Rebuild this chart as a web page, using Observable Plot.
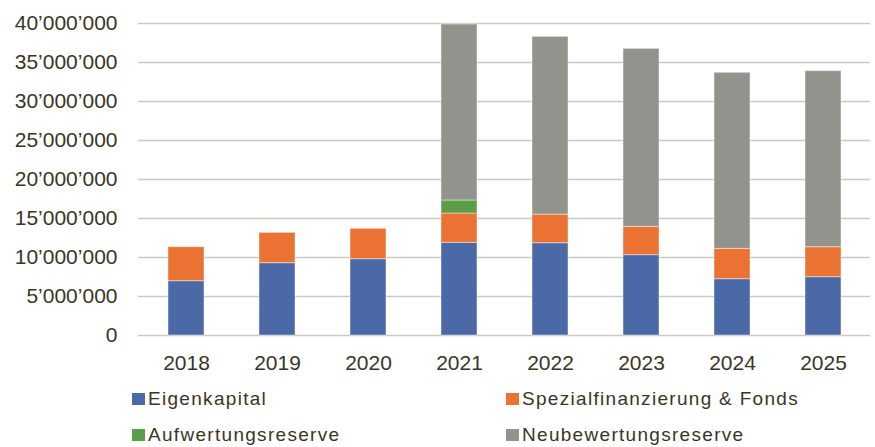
<!DOCTYPE html>
<html>
<head>
<meta charset="utf-8">
<script src="https://cdn.jsdelivr.net/npm/d3@7"></script>
<script src="https://cdn.jsdelivr.net/npm/@observablehq/plot@0.6"></script>
<style>
  html, body { margin: 0; padding: 0; background: #fff; }
  body { width: 875px; height: 447px; overflow: hidden; font-family: "Liberation Sans", Arial, sans-serif; color: #3b3526; }
  #legend { position: relative; height: 72px; }
  .item { position: absolute; display: flex; align-items: center; height: 36px; font-size: 19px; letter-spacing: 1.3px; white-space: nowrap; }
  .sw { width: 13px; height: 12px; margin-right: 3px; flex: none; }
</style>
</head>
<body>
<div id="chart"></div>
<div id="legend"></div>
<script>
const years = ["2018", "2019", "2020", "2021", "2022", "2023", "2024", "2025"];
const seriesNames = ["Eigenkapital", "Spezialfinanzierung & Fonds", "Aufwertungsreserve", "Neubewertungsreserve"];
const colors = ["#4a69a6", "#ea7233", "#5a9e47", "#92938c"];
const eigenkapital = [6960000, 9270000, 9780000, 11880000, 11830000, 10300000, 7220000, 7480000];
const spezialfinanzierung = [4360000, 3890000, 3900000, 3760000, 3670000, 3630000, 3890000, 3840000];
const aufwertungsreserve = [0, 0, 0, 1670000, 0, 0, 0, 0];
const neubewertungsreserve = [0, 0, 0, 22560000, 22790000, 22820000, 22570000, 22570000];
const yTicks = [0, 5000000, 10000000, 15000000, 20000000, 25000000, 30000000, 35000000, 40000000];

const seriesValues = [eigenkapital, spezialfinanzierung, aufwertungsreserve, neubewertungsreserve];
const data = [];
seriesNames.forEach((s, si) => {
  years.forEach((y, yi) => data.push({year: y, series: s, value: seriesValues[si][yi]}));
});

const fmt = d3.formatLocale({decimal: ".", thousands: "\u2019", grouping: [3], currency: ["", ""]}).format(",");

const chart = Plot.plot({
  width: 875,
  height: 381,
  marginLeft: 138,
  marginRight: 5,
  marginTop: 23,
  marginBottom: 46,
  style: {fontFamily: "'Liberation Sans', Arial, sans-serif", fontSize: "21px", color: "#3b3526", background: "#fff"},
  x: {domain: years, paddingInner: 0.607, paddingOuter: 0.3035, label: null, tickSize: 0, tickPadding: 20},
  y: {domain: [0, 40000000], ticks: yTicks, tickFormat: fmt, label: null, tickSize: 0, tickPadding: 21},
  color: {domain: seriesNames, range: colors},
  marks: [
    Plot.gridY(yTicks, {stroke: "#c9c9c5", strokeOpacity: 1, strokeWidth: 1.6}),
    Plot.barY(data, Plot.stackY({x: "year", y: "value", fill: "series", order: seriesNames, stroke: "#ffffff", strokeOpacity: 0.45, strokeWidth: 1})),
    Plot.axisX({tickSize: 0, tickPadding: 20, fontSize: 21}),
    Plot.axisY({ticks: yTicks, tickFormat: fmt, tickSize: 0, tickPadding: 21, fontSize: 21})
  ]
});
document.getElementById("chart").appendChild(chart);

const legend = document.getElementById("legend");
const pos = [[132, 0], [506, 0], [132, 36], [506, 36]];
seriesNames.forEach((s, i) => {
  const it = document.createElement("div");
  it.className = "item";
  it.style.left = pos[i][0] + "px";
  it.style.top = pos[i][1] + "px";
  const sw = document.createElement("span");
  sw.className = "sw";
  sw.style.background = colors[i];
  const t = document.createElement("span");
  t.textContent = s;
  it.appendChild(sw);
  it.appendChild(t);
  legend.appendChild(it);
});
</script>
</body>
</html>
